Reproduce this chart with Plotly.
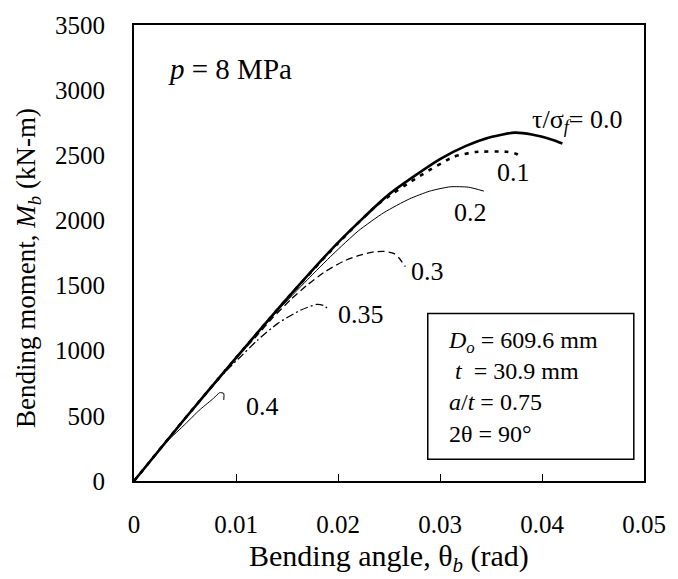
import plotly.graph_objects as go

# Data (bending angle in rad, bending moment in kN-m)
x_00 = [0, 0.005, 0.01, 0.015, 0.02, 0.025, 0.03, 0.0325, 0.035, 0.0373, 0.039, 0.041, 0.042]
y_00 = [0, 480, 945, 1400, 1830, 2200, 2470, 2570, 2640, 2674, 2660, 2620, 2591]

x_01 = [0, 0.005, 0.01, 0.015, 0.02, 0.024, 0.028, 0.0314, 0.0335, 0.0365, 0.0375, 0.038]
y_01 = [0, 480, 945, 1400, 1825, 2130, 2340, 2490, 2525, 2527, 2510, 2480]

x_02 = [0, 0.005, 0.01, 0.014, 0.017, 0.0195, 0.022, 0.0245, 0.027, 0.029, 0.031, 0.0328, 0.0343]
y_02 = [0, 480, 940, 1300, 1545, 1740, 1920, 2060, 2165, 2225, 2258, 2255, 2225]

x_03 = [0, 0.005, 0.009, 0.0105, 0.0121, 0.0135, 0.0154, 0.0170, 0.0186, 0.0205, 0.022, 0.0235, 0.0245, 0.0255, 0.026, 0.0266]
y_03 = [0, 480, 850, 985, 1120, 1245, 1395, 1505, 1600, 1685, 1730, 1758, 1762, 1745, 1710, 1645]

x_035 = [0, 0.005, 0.0089, 0.0102, 0.0121, 0.0141, 0.0163, 0.0179, 0.0187, 0.019]
y_035 = [0, 480, 835, 935, 1080, 1210, 1310, 1355, 1345, 1318]

x_04 = [0, 0.003, 0.0048, 0.0065, 0.0078, 0.0084, 0.0088, 0.0088]
y_04 = [0, 285, 420, 550, 635, 678, 672, 622]

curve_labels = ["τ/σ<sub><i>f</i></sub>= 0.0", "0.1", "0.2", "0.3", "0.35", "0.4"]
label_x = [0.0388, 0.0372, 0.0330, 0.0288, 0.02225, 0.01262]
label_y = [2767, 2366, 2064, 1608, 1280, 575]
label_anchor = ["left", "center", "center", "center", "center", "center"]

x_ticks = [0, 0.01, 0.02, 0.03, 0.04, 0.05]
x_ticktext = ["0", "0.01", "0.02", "0.03", "0.04", "0.05"]
y_ticks = [0, 500, 1000, 1500, 2000, 2500, 3000, 3500]

box_lines = ["<i>D<sub>o</sub></i> = 609.6 mm", " <i>t</i>  = 30.9 mm", "<i>a</i>/<i>t</i> = 0.75", "2θ = 90°"]

FONT = "Liberation Serif, Times New Roman, serif"

fig = go.Figure()
styles = [
    (x_00, y_00, 2.6, "solid"),
    (x_01, y_01, 2.6, "4px,6px"),
    (x_02, y_02, 1.0, "solid"),
    (x_03, y_03, 1.3, "7px,4px"),
    (x_035, y_035, 1.3, "8px,3px,2px,3px"),
    (x_04, y_04, 1.0, "solid"),
]
for xs, ys, w, d in styles:
    fig.add_trace(go.Scatter(x=xs, y=ys, mode="lines",
                             line=dict(color="black", width=w, dash=d, shape="spline", smoothing=0.6),
                             showlegend=False, hoverinfo="skip"))

annotations = []
for t, lx, ly, a in zip(curve_labels, label_x, label_y, label_anchor):
    annotations.append(dict(x=lx, y=ly, xref="x", yref="y", text=t, showarrow=False,
                            xanchor=a, yanchor="middle", font=dict(family=FONT, size=26, color="black")))
annotations.append(dict(x=0.00318, y=3160, xref="x", yref="y", text="<i>p</i> = 8 MPa",
                        showarrow=False, xanchor="left", yanchor="middle",
                        font=dict(family=FONT, size=29, color="black")))
annotations.append(dict(x=0.0306, y=718, xref="x", yref="y", text="<br>".join(box_lines),
                        showarrow=False, xanchor="left", yanchor="middle", align="left",
                        font=dict(family=FONT, size=24, color="black")))
annotations.append(dict(x=0.5, y=0, xref="paper", yref="paper", yshift=-77,
                        text="Bending angle, θ<sub><i>b</i></sub> (rad)", showarrow=False,
                        xanchor="center", yanchor="middle",
                        font=dict(family=FONT, size=30, color="black")))
annotations.append(dict(x=0, y=0.5, xref="paper", yref="paper", xshift=-106, yshift=-15,
                        text="Bending moment, <i>M<sub>b</sub></i> (kN-m)", showarrow=False,
                        textangle=-90, xanchor="center", yanchor="middle",
                        font=dict(family=FONT, size=27, color="black")))

fig.add_shape(type="rect", xref="x", yref="y", x0=0.0288, x1=0.0490, y0=166, y1=1285,
              line=dict(color="black", width=1.5), fillcolor="white", layer="below")

fig.update_layout(
    width=678, height=579,
    margin=dict(l=134, r=25, t=18, b=98),
    paper_bgcolor="white", plot_bgcolor="white",
    annotations=annotations,
    font=dict(family=FONT, color="black"),
)
fig.update_xaxes(range=[0, 0.05], tickvals=x_ticks, ticktext=x_ticktext,
                 ticks="inside", ticklen=7, tickwidth=1, tickcolor="black",
                 showline=True, linecolor="black", linewidth=2, mirror=True,
                 showgrid=False, zeroline=False, ticklabelstandoff=20,
                 tickfont=dict(family=FONT, size=25, color="black"))
fig.update_yaxes(range=[0, 3500], tickvals=y_ticks,
                 ticks="", showline=True, linecolor="black", linewidth=2, mirror=True,
                 showgrid=False, zeroline=False, ticklabelstandoff=22,
                 tickfont=dict(family=FONT, size=25, color="black"))

fig.write_html("out.html")
